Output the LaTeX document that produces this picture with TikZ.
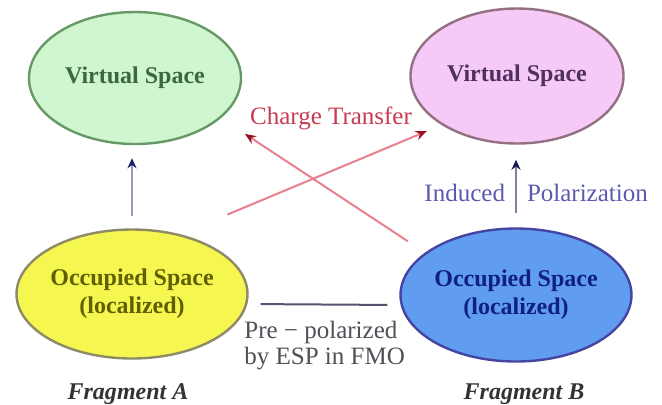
\documentclass[tikz,border=0pt]{standalone}
\usepackage{fontspec}
\setmainfont{Liberation Serif}
\usetikzlibrary{shapes.geometric,arrows.meta}
\definecolor{gfill}{RGB}{208,246,208}
\definecolor{gtext}{RGB}{58,106,58}
\definecolor{pfill}{RGB}{246,202,246}
\definecolor{ptext}{RGB}{80,48,96}
\definecolor{yfill}{RGB}{246,246,80}
\definecolor{ytext}{RGB}{96,96,0}
\definecolor{bfill}{RGB}{96,156,240}
\definecolor{btext}{RGB}{16,32,128}
\definecolor{ctline}{RGB}{232,128,144}
\definecolor{cttip}{RGB}{154,16,32}
\definecolor{cttext}{RGB}{200,60,80}
\definecolor{iptext}{RGB}{90,90,176}
\definecolor{ipline}{RGB}{130,130,160}
\definecolor{lvline}{RGB}{154,154,200}
\definecolor{navytip}{RGB}{32,32,106}
\definecolor{hline}{RGB}{90,80,112}
\definecolor{pptext}{RGB}{80,80,88}
\tikzset{
  space/.style={ellipse, draw, line width=1.2pt, inner sep=0pt, font=\fontsize{12}{14}\selectfont\bfseries, align=center},
  lab/.style={font=\fontsize{12.5}{13}\selectfont, inner sep=1pt},
  frag/.style={font=\fontsize{12}{14}\selectfont\bfseries\itshape, text=black!80},
  vline/.style={line width=1pt, -{Stealth[length=5pt,width=4.5pt]}},
  ctarrow/.style={line width=1pt, draw=ctline, -{Stealth[length=5.5pt,width=4.5pt,color=cttip]}}
}
\begin{document}
\begin{tikzpicture}[x=0.5pt,y=-0.5pt]
\useasboundingbox (0,0) rectangle (662,404);
\fill[white] (0,0) rectangle (662,404);
% ellipses
\node[space, fill=gfill, draw=gray!80!green, text=gtext, minimum width=106pt, minimum height=66pt] (green) at (135,78) {Virtual Space};
\node[space, fill=pfill, draw=gray!70!magenta!80!black, text=ptext, minimum width=106.5pt, minimum height=67.5pt] (pink) at (517,76) {Virtual Space};
\node[space, fill=yfill, draw=gray!60!yellow!70!black, text=ytext, minimum width=105.5pt, minimum height=64.5pt] (yellow) at (132,294) {Occupied Space\\(localized)};
\node[space, fill=bfill, draw=blue!40!gray!90!black, text=btext, minimum width=105pt, minimum height=66.5pt] (blue) at (516,295) {Occupied Space\\(localized)};
% vertical arrows
\draw[vline, draw=lvline, -{Stealth[length=5pt,width=4.5pt,color=navytip]}, shorten <=6pt, shorten >=6.5pt] (yellow.north) -- (yellow.north |- green.south);
\draw[vline, draw=ipline, -{Stealth[length=5pt,width=4.5pt,color=navytip!80!black]}, shorten <=7pt, shorten >=7.5pt] (blue.north) -- (blue.north |- pink.south)
  node[pos=0.41, lab, text=iptext, anchor=east, xshift=-4pt] (ind) {Induced}
  node[pos=0.41, lab, text=iptext, anchor=west, xshift=4pt] (pol) {Polarization};
% charge transfer arrows
\draw[ctarrow, shorten <=25.5pt, shorten >=8pt] (yellow.51) -- (pink.213.3);
\draw[ctarrow, shorten <=10.25pt, shorten >=14.35pt] (blue.155.5) -- (green.-25.6);
\node[lab, text=cttext] (ct) at (331,118) {Charge Transfer};
% horizontal line
\draw[line width=1pt, draw=hline, shorten <=6pt, shorten >=6pt] ([yshift=-5pt]yellow.east) -- ([yshift=-5pt]blue.west);
\node[lab, text=pptext, align=left, anchor=west] (pp) at (242,346) {Pre − polarized\\by ESP in FMO};
% fragment labels
\node[frag] (fa) at (128,394) {Fragment A};
\node[frag] (fb) at (524,394) {Fragment B};
\end{tikzpicture}
\end{document}
